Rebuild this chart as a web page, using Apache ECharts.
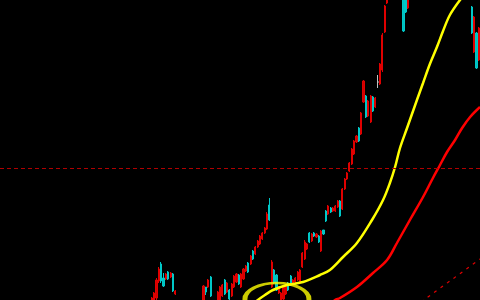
<!DOCTYPE html>
<html><head><meta charset="utf-8">
<script src="https://cdn.jsdelivr.net/npm/echarts@6/dist/echarts.min.js"></script>
<style>html,body{margin:0;padding:0;background:#000}#c{width:480px;height:300px}</style>
</head><body><div id="c"></div>
<script>
// Trading-day slots (category axis)
const dayCount = 204;
const days = Array.from({length: dayCount}, (_, i) => 'D' + (i + 1));

// Visible candles: day index, open, close, low, high (price units)
const candleDay = [64,65,66,67,68,69,70,71,72,73,74,86,87,88,89,92,93,94,95,96,97,98,99,100,101,102,103,104,105,106,107,108,109,110,111,112,113,114,115,116,117,118,119,120,121,122,123,124,125,126,127,128,129,130,131,132,133,134,135,136,137,138,139,140,141,142,143,144,145,146,147,148,149,150,151,152,153,154,155,156,157,158,159,160,161,162,163,164,171,172,173,200,201,202,203];
const opens  = [-3,-2,2,19,36,22,21,28,23,26,6,-3,13,13,23,-1,0,4,20,8,10,4,13,18,25,13,21,29,37,36,49,46,53,56,61,67,71,95,13,30,25,7,0,1,6,17,24,17,18,20,18,33,41,51,67,59,67,63,64,49,70,89,86,92,89,89,93,99,91,111,121,129,136,146,158,172,166,198,204,184,178,203,193,218,216,230,268,297,330,320,292,293,248,267,240];
const closes = [2,7,20,31,19,14,26,21,27,9,9,14,8,20,4,8,13,15,6,17,1,16,24,26,16,26,31,34,28,44,41,53,59,64,67,72,86,80,38,17,10,13,7,13,15,10,15,20,22,28,30,47,58,56,58,66,64,66,58,69,66,79,94,88,92,94,99,84,111,121,127,137,151,159,164,159,187,219,183,199,204,189,202,218,236,265,294,320,269,288,320,267,283,232,272];
const lows   = [-5,-4,0,17,17,13,20,20,22,8,5,-5,5,12,3,-3,-2,3,5,7,-1,3,12,17,15,12,20,28,27,35,40,45,52,55,60,66,70,79,12,16,9,6,-2,-1,5,9,14,16,17,19,17,32,40,50,57,58,63,62,57,48,65,78,85,87,88,88,92,83,90,110,120,128,135,145,157,158,165,197,182,183,177,188,192,212,215,228,267,296,268,287,291,266,247,231,239];
const highs  = [3,8,22,33,38,27,27,29,28,27,10,15,13,21,24,9,14,16,21,18,11,17,25,27,26,27,32,35,38,45,50,54,60,65,68,73,88,102,40,31,26,14,8,14,16,18,25,21,23,29,31,48,60,57,68,67,68,67,65,70,70,90,95,93,93,95,100,100,112,122,128,138,152,160,165,173,188,220,205,200,205,204,203,225,237,267,295,330,340,330,330,294,284,268,273];

// Moving-average curves: [day position, price]
const maFast = [[104,-10],[109.1,0],[112.1,5],[115.5,10],[121.5,15],[128.3,18],[135.5,25],[139.7,30],[145.3,43],[151.2,57],[157.6,80],[162.3,100],[165.2,117],[167.4,133],[169.5,152],[172.5,172],[176.7,200],[179.3,217],[182.2,236],[185.2,253],[187.8,269],[190.7,285],[195,300],[199.2,312]];
const maSlow = [[139.7,-5],[141.9,0],[144,2],[151.2,13],[158,27],[164,40],[168.2,57],[173.7,80],[179.3,103],[183.5,122],[186.5,135],[189.5,148],[192.9,160],[195.9,172],[199.3,183],[203.5,193]];
const maLong = [[178.5,-2],[203.5,41]];
const refPrice = 132;
const markedSpot = [[117.2, 1]];

const candleData = candleDay.map((d, i) => [d, opens[i], closes[i], lows[i], highs[i]]);

const chart = echarts.init(document.getElementById('c'), null, {renderer: 'canvas'});
chart.setOption({
  backgroundColor: '#000000',
  animation: false,
  grid: {left: 0, right: 0, top: 0, bottom: 0},
  xAxis: [
    {type: 'category', data: days, show: false, boundaryGap: true},
    {type: 'value', min: -0.5, max: dayCount - 0.5, show: false}
  ],
  yAxis: {type: 'value', min: 0, max: 300, show: false, splitLine: {show: false}},
  series: [
    {
      type: 'candlestick', xAxisIndex: 0, clip: true,
      data: candleData, encode: {x: 0, y: [1, 2, 3, 4]},
      barWidth: 1.6,
      itemStyle: {
        color: '#d00000', color0: '#00c0c0',
        borderColor: '#e00000', borderColor0: '#00c8c8',
        borderColorDoji: '#c0c0c0', borderWidth: 1
      },
      markLine: {
        silent: true, symbol: 'none', label: {show: false},
        lineStyle: {color: '#b00000', type: [4, 3], width: 1},
        data: [{yAxis: refPrice}]
      }
    },
    {
      type: 'line', xAxisIndex: 1, data: maFast, smooth: 0.35, showSymbol: false, clip: true,
      lineStyle: {color: '#ffff00', width: 2.5}
    },
    {
      type: 'line', xAxisIndex: 1, data: maSlow, smooth: 0.35, showSymbol: false, clip: true,
      lineStyle: {color: '#ff0000', width: 2.5}
    },
    {
      type: 'line', xAxisIndex: 1, data: maLong, showSymbol: false, clip: true,
      lineStyle: {color: '#e00000', width: 1.2, type: [3, 5]}
    },
    {
      type: 'scatter', xAxisIndex: 1, data: markedSpot, symbol: 'circle', symbolSize: [64, 32],
      itemStyle: {color: 'rgba(0,0,0,0)', borderColor: '#ffff00', borderWidth: 3.5}
    }
  ]
});
</script></body></html>
